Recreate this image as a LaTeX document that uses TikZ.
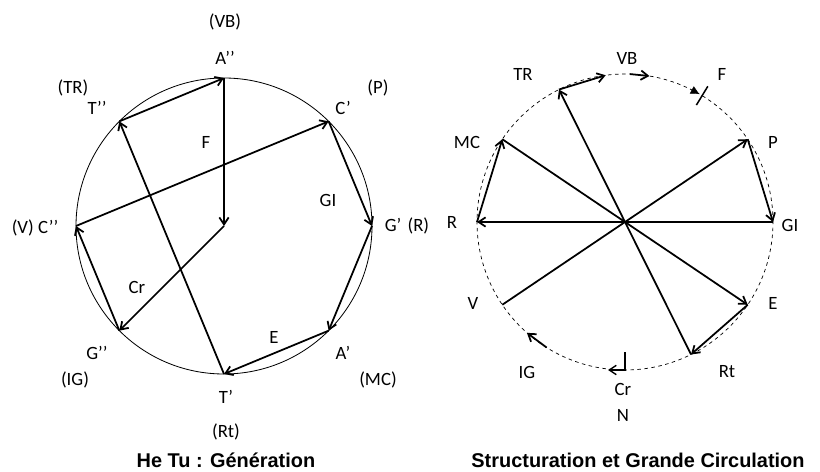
\documentclass[tikz,border=0pt]{standalone}
\usepackage{fontspec}
\setmainfont{Carlito}
\newfontfamily\titlefont{Liberation Sans}
\usetikzlibrary{calc,arrows.meta}

\begin{document}
\begin{tikzpicture}[x=0.03cm,y=0.03cm,
  vec/.style={line width=1.5pt,-{Straight Barb[length=6pt,width=8pt]}},
  lbl/.style={font=\fontsize{16}{18}\selectfont},
  ttl/.style={font=\titlefont\bfseries\fontsize{17}{20}\selectfont,anchor=base}]
  \useasboundingbox (0,0) rectangle (820,471);
  \coordinate (Lc) at (224,245);
  \coordinate (Rc) at (625,249);
  \draw[line width=0.7pt] (Lc) circle (148);
  \draw[line width=0.6pt,dash pattern=on 3pt off 3pt] (Rc) circle (148);
  % He Tu
  \foreach \n/\a in {A2/90,T2/135,C1/45,C2/180,G1/0,G2/225,A1/315,T1/270}
    \coordinate (\n) at ($(Lc)+(\a:148)$);
  \draw[vec] (T2) -- (A2);
  \draw[vec] (A2) -- (Lc);
  \draw[vec] (Lc) -- (G2);
  \draw[vec] (G2) -- (C2);
  \draw[vec] (C2) -- (C1);
  \draw[vec] (C1) -- (G1);
  \draw[vec] (G1) -- (A1);
  \draw[vec] (A1) -- (T1);
  \draw[vec] (T1) -- (T2);
  \node[lbl] (lVB) at (225,449) {(VB)};
  \node[lbl] (lA2) at (225,413) {A’’};
  \node[lbl] (lTR) at (73,383) {(TR)};
  \node[lbl] (lT2) at (97,363) {T’’};
  \node[lbl] (lP) at (378,383) {(P)};
  \node[lbl] (lC1) at (343,363) {C’};
  \node[lbl] (lF) at (206,329) {F};
  \node[lbl] (lGI) at (328,271) {GI};
  \node[lbl] (lC2) at (35,243) {(V) C’’};
  \node[lbl] (lG1) at (407,245) {G’\,\,(R)};
  \node[lbl] (lCr) at (137,184) {Cr};
  \node[lbl] (lG2) at (97,118) {G’’};
  \node[lbl] (lIG) at (75,91) {(IG)};
  \node[lbl] (lE) at (274,134) {E};
  \node[lbl] (lA1) at (343,118) {A’};
  \node[lbl] (lMC) at (378,91) {(MC)};
  \node[lbl] (lT1) at (226,74) {T’};
  \node[lbl] (lRt) at (226,39) {(Rt)};
  \node[ttl] (tl) at (226,4) {He Tu : Génération};
  % Structuration
  \foreach \n/\a in {sP/34,sMC/146,sTR/116.5,sE/-34,sRt/-63.5,sV/214,sGI/0,sR/180,
                     sVBa/97.5,sVBb/88,sVBc/80.5,sFa/63,sFb/60,sIGa/238,sIGb/228.5}
    \coordinate (\n) at ($(Rc)+(\a:148)$);
  \coordinate (sBa) at ($(Rc)+(58.6:137)$);
  \coordinate (sBb) at ($(Rc)+(58.6:159)$);
  \coordinate (sCra) at ($(Rc)+(0,-130)$);
  \coordinate (sCrb) at ($(Rc)+(-17,-148)$);
  \draw[vec] (sV) -- (sP);
  \draw[vec] (sP) -- (sGI);
  \draw[vec] (sGI) -- (sR);
  \draw[vec] (sR) -- (sMC);
  \draw[vec] (sMC) -- (sE);
  \draw[vec] (sE) -- (sRt);
  \draw[vec] (sRt) -- (sTR);
  \draw[vec] (sTR) -- (sVBa);
  \draw[vec] (sVBb) -- (sVBc);
  \draw[-{Triangle[length=7pt,width=7pt]}] (sFa) -- (sFb);
  \draw[line width=1.3pt] (sBa) -- (sBb);
  \draw[vec] (sIGa) -- (sIGb);
  \draw[vec,line width=1.2pt] (sCra) |- (sCrb);
  \node[lbl] (rTR) at (523,397) {TR};
  \node[lbl] (rVB) at (627,413) {VB};
  \node[lbl] (rF) at (722,397) {F};
  \node[lbl] (rP) at (773,329) {P};
  \node[lbl] (rMC) at (467,329) {MC};
  \node[lbl] (rR) at (452,249) {R};
  \node[lbl] (rGI) at (790,246) {GI};
  \node[lbl] (rV) at (473,168) {V};
  \node[lbl] (rE) at (773,168) {E};
  \node[lbl] (rIG) at (527,99) {IG};
  \node[lbl] (rCr) at (623,82) {Cr};
  \node[lbl] (rN) at (623,56) {N};
  \node[lbl] (rRt) at (727,99) {Rt};
  \node[ttl] (tr) at (638,4) {Structuration et Grande Circulation};
\end{tikzpicture}
\end{document}
